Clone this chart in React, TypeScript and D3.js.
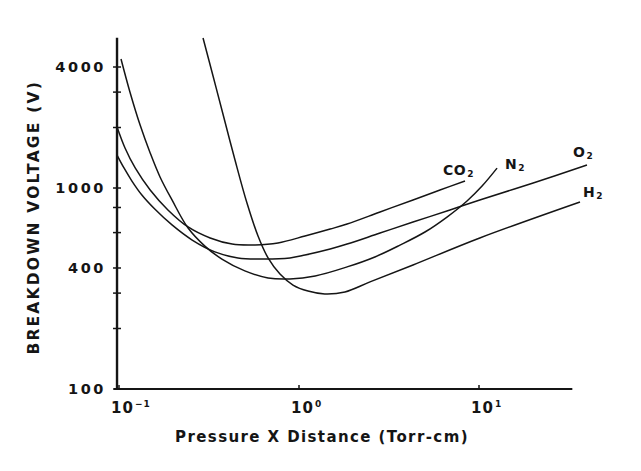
import * as d3 from "d3";

// pressure x distance (Torr-cm), breakdown voltage (V)
const co2 = [
  [0.0975, 2012], [0.108, 1582], [0.123, 1258], [0.149, 978], [0.187, 778],
  [0.242, 640], [0.321, 564], [0.425, 526], [0.57, 521], [0.764, 533],
  [1.08, 577], [1.49, 625], [1.85, 662], [2.82, 760], [4.3, 872], [6.07, 977],
  [8.36, 1083],
];
const n2 = [
  [0.1026, 4385], [0.115, 3005], [0.131, 2057], [0.149, 1494], [0.169, 1135],
  [0.197, 872], [0.242, 632], [0.3, 514], [0.373, 443], [0.5, 387],
  [0.673, 357], [0.891, 353], [1.23, 365], [1.85, 405], [2.64, 454],
  [3.64, 520], [5.01, 604], [6.64, 717], [8.58, 862], [10.4, 1023], [12.6, 1256],
];
const o2 = [
  [0.0975, 1459], [0.1066, 1258], [0.118, 1083], [0.134, 923], [0.158, 786],
  [0.197, 655], [0.255, 551], [0.341, 481], [0.458, 449], [0.647, 443],
  [0.891, 449], [1.08, 464], [1.49, 497], [1.85, 526], [2.82, 597], [4.3, 677],
  [6.9, 778], [10.1, 872], [20, 1059], [39.8, 1301],
];
const h2 = [
  [0.293, 5575], [0.333, 3608], [0.378, 2336], [0.441, 1378], [0.514, 842],
  [0.592, 577], [0.673, 449], [0.784, 373], [0.926, 329], [1.122, 307],
  [1.39, 297], [1.8, 304], [2.48, 341], [4.3, 414], [10.1, 564], [36.4, 852],
];

const series = [
  { name: "CO", data: co2, dx: -22, dy: -6 },
  { name: "N", data: n2, dx: 8, dy: 1 },
  { name: "O", data: o2, dx: -14, dy: -8 },
  { name: "H", data: h2, dx: 3, dy: -5 },
];

const yTicks = [100, 200, 300, 400, 600, 800, 1000, 2000, 3000, 4000];
const yLabels = [100, 400, 1000, 4000];
const xTicks = [0.1, 1, 10];
const xExp = ["\u22121", "0", "1"];

const font = "'DejaVu Sans', Arial, sans-serif";
const ink = "#151515";

export default function App() {
  const x = d3.scaleLog().domain([0.1, 10]).range([119, 479]);
  const y = d3.scaleLog().domain([100, 4000]).range([389, 67]);

  const x0 = x(0.0975);
  const x1 = x(33);
  const y0 = y(100);
  const yTop = y(5600);

  const line = d3
    .line<number[]>()
    .x((d) => x(d[0]))
    .y((d) => y(d[1]))
    .curve(d3.curveCatmullRom.alpha(0.5));

  return (
    <svg
      width={641}
      height={471}
      style={{ position: "absolute", left: 0, top: 0, background: "#fff" }}
    >
      <rect width={641} height={471} fill="#fff" />
      {/* axes */}
      <line x1={x0} x2={x0} y1={yTop} y2={y0 + 1} stroke={ink} strokeWidth={2.4} />
      <line x1={x0 - 3} x2={x1} y1={y0} y2={y0} stroke={ink} strokeWidth={2} />
      {yTicks.map((t) => (
        <line key={t} x1={x0 - 4} x2={x0 + 4} y1={y(t)} y2={y(t)} stroke={ink} strokeWidth={1.5} />
      ))}
      {yLabels.map((t) => (
        <text
          key={t}
          x={x0 - 11}
          y={y(t)}
          dy="0.36em"
          textAnchor="end"
          fontFamily={font}
          fontWeight="bold"
          fontSize={14.5}
          letterSpacing={2.6}
          fill={ink}
        >
          {t}
        </text>
      ))}
      {xTicks.map((t, i) => (
        <g key={t}>
          <line x1={x(t)} x2={x(t)} y1={y0} y2={y0 - 4} stroke={ink} strokeWidth={1.5} />
          <text
            x={x(t) - 8}
            y={y0 + 24}
            fontFamily={font}
            fontWeight="bold"
            fontSize={15}
            letterSpacing={1}
            fill={ink}
          >
            10
            <tspan fontSize={9} dy={-6} dx={1}>
              {xExp[i]}
            </tspan>
          </text>
        </g>
      ))}
      <text
        x={322}
        y={y0 + 53}
        textAnchor="middle"
        fontFamily={font}
        fontWeight="bold"
        fontSize={15}
        letterSpacing={1.4}
        fill={ink}
      >
        Pressure X Distance (Torr-cm)
      </text>
      <text
        transform={`translate(33,${(yTop + y0) / 2 + 4}) rotate(-90)`}
        textAnchor="middle"
        dy="0.36em"
        fontFamily={font}
        fontWeight="bold"
        fontSize={15.5}
        letterSpacing={2.2}
        fill={ink}
      >
        BREAKDOWN VOLTAGE (V)
      </text>
      {/* curves */}
      {series.map((s) => {
        const last = s.data[s.data.length - 1];
        return (
          <g key={s.name}>
            <path d={line(s.data) ?? ""} fill="none" stroke={ink} strokeWidth={1.5} />
            <text
              x={x(last[0]) + s.dx}
              y={y(last[1]) + s.dy}
              fontFamily={font}
              fontWeight="bold"
              fontSize={14}
              letterSpacing={0.5}
              fill={ink}
            >
              {s.name}
              <tspan fontSize={9} dy={2} dx={1}>
                2
              </tspan>
            </text>
          </g>
        );
      })}
    </svg>
  );
}
